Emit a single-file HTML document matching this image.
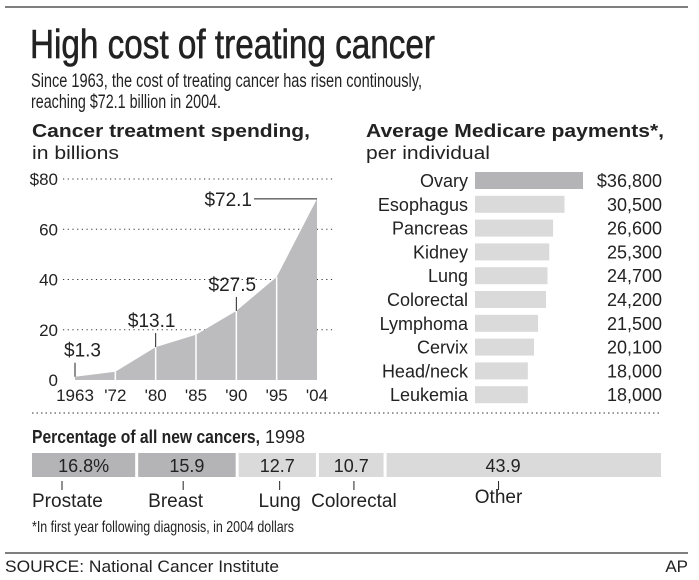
<!DOCTYPE html>
<html><head><meta charset="utf-8"><style>
body{margin:0;background:#fff;}
svg{display:block;font-family:"Liberation Sans",sans-serif;fill:#222;}
</style></head><body>
<svg id="c" width="699" height="580" viewBox="0 0 699 580">
<line x1="5" y1="7" x2="688" y2="7" stroke="#555" stroke-width="1.5"/>
<text x="30" y="58" font-size="41" stroke="#222" stroke-width="0.6" textLength="405" lengthAdjust="spacingAndGlyphs">High cost of treating cancer</text>
<text x="31" y="87" font-size="19" textLength="391" lengthAdjust="spacingAndGlyphs">Since 1963, the cost of treating cancer has risen continously,</text>
<text x="31" y="108" font-size="19" textLength="190" lengthAdjust="spacingAndGlyphs">reaching $72.1 billion in 2004.</text>
<text x="32" y="137" font-size="18" font-weight="bold" textLength="278" lengthAdjust="spacingAndGlyphs">Cancer treatment spending,</text>
<text x="32" y="159" font-size="18" textLength="87" lengthAdjust="spacingAndGlyphs">in billions</text>
<text x="366" y="137" font-size="18" font-weight="bold" textLength="298" lengthAdjust="spacingAndGlyphs">Average Medicare payments*,</text>
<text x="366" y="159" font-size="18" textLength="124" lengthAdjust="spacingAndGlyphs">per individual</text>
<g id="area"></g>
<g id="bars"></g>
<line x1="32" y1="413" x2="662" y2="413" stroke="#333" stroke-dasharray="1.5 3"/>
<text x="32" y="443" font-size="18" font-weight="bold"><tspan textLength="228" lengthAdjust="spacingAndGlyphs">Percentage of all new cancers,</tspan><tspan font-weight="normal"> 1998</tspan></text>
<g id="pct"></g>
<text x="32" y="532" font-size="16" textLength="262" lengthAdjust="spacingAndGlyphs">*In first year following diagnosis, in 2004 dollars</text>
<line x1="5" y1="553" x2="688" y2="553" stroke="#333" stroke-width="1.2"/>
<text x="5" y="572" font-size="17" textLength="274" lengthAdjust="spacingAndGlyphs">SOURCE: National Cancer Institute</text>
<text x="688" y="572" font-size="17" text-anchor="end">AP</text>
</svg>
<script>
const years=['1963',"'72","'80","'85","'90","'95","'04"];
const spending=[1.3,3.3,13.1,18,27.5,41,72.1];
const yTicks=[0,20,40,60,80];
const yTickLabels=['0','20','40','60','$80'];
const callouts=[{i:0,label:'$1.3'},{i:2,label:'$13.1'},{i:4,label:'$27.5'},{i:6,label:'$72.1'}];
const cancers=['Ovary','Esophagus','Pancreas','Kidney','Lung','Colorectal','Lymphoma','Cervix','Head/neck','Leukemia'];
const payments=[36800,30500,26600,25300,24700,24200,21500,20100,18000,18000];
const paymentLabels=['$36,800','30,500','26,600','25,300','24,700','24,200','21,500','20,100','18,000','18,000'];
const pctNames=['Prostate','Breast','Lung','Colorectal','Other'];
const pctValues=[16.8,15.9,12.7,10.7,43.9];
const pctLabels=['16.8%','15.9','12.7','10.7','43.9'];

const NS='http://www.w3.org/2000/svg';
function mk(p,t,a){const e=document.createElementNS(NS,t);for(const k in a)e.setAttribute(k,a[k]);p.appendChild(e);return e;}
const g=document.getElementById('area');
const y=v=>380-v*(201/80);
const x=i=>75+i*(242/6);
yTicks.forEach((t,k)=>{
  if(t>0){const l=mk(g,'line',{x1:63,x2:333,y1:y(t),y2:y(t),stroke:'#333','stroke-dasharray':'1.2 3.5'});
  
  }
  const tx=mk(g,'text',{x:58,y:y(t)+6,'font-size':17,'text-anchor':'end'});tx.textContent=yTickLabels[k];
  
  
});
let d='M'+x(0)+' '+y(0);
spending.forEach((v,i)=>{d+=' L'+x(i)+' '+y(v);});
d+=' L'+x(6)+' '+y(0)+' Z';
const ar=mk(g,'path',{d:d,fill:'#bcbcbe'});


for(let i=1;i<6;i++){const s=mk(g,'line',{x1:x(i),x2:x(i),y1:y(0),y2:y(spending[i]),stroke:'#fff','stroke-width':1.5});
  
  }
years.forEach((yr,i)=>{const t=mk(g,'text',{x:x(i),y:401,'font-size':17,'text-anchor':'middle'});t.textContent=yr;
  
  });
callouts.forEach(c=>{
  const v=spending[c.i];let t;
  if(c.i===6){
    mk(g,'line',{x1:254,x2:x(6),y1:y(v),y2:y(v),stroke:'#222'});
    t=mk(g,'text',{x:252,y:y(v)+7,'font-size':19,'text-anchor':'end'});
  }else{
    mk(g,'line',{x1:x(c.i),x2:x(c.i),y1:y(v),y2:y(v)-14,stroke:'#222'});
    t=mk(g,'text',{x:x(c.i)-(c.i===0?0:4),y:y(v)-20,'font-size':19,'text-anchor':c.i===0?'start':'middle'});
    if(c.i===0)t.setAttribute('x',x(0)-11);
  }
  t.textContent=c.label;
  
  
});
const b=document.getElementById('bars');
const bx=v=>475+v*(108/36800);
cancers.forEach((c,i)=>{
  const cy=180+i*23.8;
  const r=mk(b,'rect',{x:475,y:cy-8,width:bx(payments[i])-475,height:17,fill:i===0?'#b4b4b6':'#dadada'});
  
  
  const l=mk(b,'text',{x:468,y:cy+7,'font-size':18,'text-anchor':'end'});l.textContent=c;
  
  
  const v=mk(b,'text',{x:662,y:cy+7,'font-size':18,'text-anchor':'end'});v.textContent=paymentLabels[i];
  
  
});
const p=document.getElementById('pct');
const total=pctValues.reduce((a,c)=>a+c,0);
let cx=32;const W=632;
pctValues.forEach((v,i)=>{
  const w=v/total*W;
  const r=mk(p,'rect',{x:cx,y:453,width:w-3,height:24,fill:i<2?'#b4b4b6':'#dadada'});
  
  
  const lx=cx+w*0.42;
  const t=mk(p,'text',{x:i===4?lx:cx+(w-3)/2,y:472,'font-size':18,'text-anchor':'middle'});t.textContent=pctLabels[i];
  
  
  const tx=i===0?62:i===1?cx+45:i===2?cx+41:i===3?cx+35:cx+112;
  mk(p,'line',{x1:tx,x2:tx,y1:481,y2:490,stroke:'#222'});
  const n=mk(p,'text',{x:i===0?32:i===1?cx+10:tx,y:i===4?503:507,'font-size':19,'text-anchor':i<2?'start':'middle'});n.textContent=pctNames[i];
  
  
  cx+=w;
});
</script>
</body></html>
